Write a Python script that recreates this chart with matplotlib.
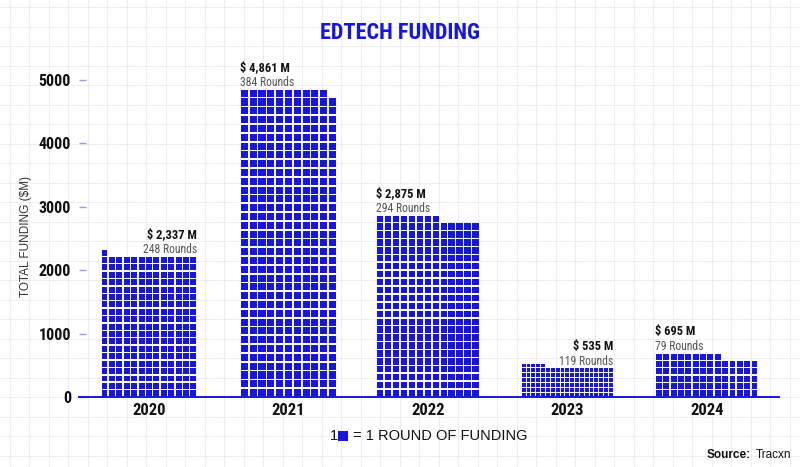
import math
import numpy as np
import matplotlib.pyplot as plt
from matplotlib import font_manager
from matplotlib.patches import Rectangle

# ------------------------------------------------------------
# data (Tracxn, EdTech funding)
# ------------------------------------------------------------
years = ['2020', '2021', '2022', '2023', '2024']
funding_musd = [2337, 4861, 2875, 535, 695]
funding_rounds = [248, 384, 294, 119, 79]
y_ticks = [0, 1000, 2000, 3000, 4000, 5000]

# layout of each waffle bar (columns of squares, side of the label)
waffle_cols = [13, 11, 13, 19, 14]
label_side = ['right', 'left', 'left', 'right', 'left']

BLUE = '#1616e4'
SANS = ['Liberation Sans', 'DejaVu Sans']

# pick a narrow face for the headline-style texts
fonts = font_manager.fontManager.ttflist
names = {f.name for f in fonts}
NARROW_STRETCH = 'normal'
if 'Roboto Condensed' in names:
    NARROW = ['Roboto Condensed', 'DejaVu Sans']
    nscale = 1.0
elif any(f.name == 'DejaVu Sans' and f.stretch == 'condensed' for f in fonts):
    NARROW = ['DejaVu Sans']
    NARROW_STRETCH = 'condensed'
    nscale = 0.9
else:
    NARROW = ['DejaVu Sans']
    nscale = 0.82

W, H = 800, 467
fig = plt.figure(figsize=(W / 100, H / 100), dpi=100)
fig.patch.set_facecolor('white')

# ------------------------------------------------------------
# graph-paper background
# ------------------------------------------------------------
bg = fig.add_axes([0, 0, 1, 1], zorder=0)
bg.set_xlim(0, W)
bg.set_ylim(H, 0)
bg.axis('off')
for gx in np.arange(9.5, W, 19.5):
    bg.axvline(gx, color='#eeeeee', lw=0.8)
for gy in np.arange(7, H, 19.5):
    bg.axhline(gy, color='#eeeeee', lw=0.8)

# ------------------------------------------------------------
# main axes
# ------------------------------------------------------------
ax_left, ax_bottom, ax_w, ax_h = 79.25, 70, 700, 348.7
ax = fig.add_axes([ax_left / W, ax_bottom / H, ax_w / W, ax_h / H], zorder=1)
ax.set_facecolor('none')
x_min, x_max = -0.5, 4.52
y_min, y_max = 0, 5500
ax.set_xlim(x_min, x_max)
ax.set_ylim(y_min, y_max)

px_per_x = ax_w / (x_max - x_min)
px_per_y = ax_h / (y_max - y_min)

gap = 0.2
for i, (year, fund, n, cols) in enumerate(zip(years, funding_musd, funding_rounds, waffle_cols)):
    rows = math.ceil(n / cols)
    row_h = fund / rows
    col_w = row_h * px_per_y / px_per_x
    left = i - cols * col_w / 2
    for k in range(n):
        r, c = divmod(k, cols)
        ax.add_patch(Rectangle(
            (left + (c + gap / 2) * col_w, (r + gap / 2) * row_h),
            col_w * (1 - gap), row_h * (1 - gap),
            facecolor=BLUE, edgecolor='none'
        ))

    # labels above the bar
    partial = n % cols
    if label_side[i] == 'left':
        lx, ha = left, 'left'
        top = fund
    else:
        lx, ha = left + cols * col_w, 'right'
        top = fund if partial == 0 else row_h * (rows - 1)
    ax.annotate(f'{n} Rounds', xy=(lx, top), xytext=(0, 2),
                textcoords='offset points', ha=ha, va='baseline',
                fontsize=8.5 * nscale, family=NARROW, fontstretch=NARROW_STRETCH,
                color='#555555', annotation_clip=False)
    ax.annotate(f'$ {fund:,} M', xy=(lx, top), xytext=(0, 13),
                textcoords='offset points', ha=ha, va='baseline',
                fontsize=9 * nscale, family=NARROW, fontstretch=NARROW_STRETCH,
                fontweight='bold', color='#111111', annotation_clip=False)

for side in ['top', 'right', 'left']:
    ax.spines[side].set_visible(False)
ax.spines['bottom'].set_color(BLUE)
ax.spines['bottom'].set_linewidth(1.4)

ax.set_xticks(range(len(years)))
ax.set_xticklabels(years, family=NARROW, fontstretch=NARROW_STRETCH, fontweight='bold',
                   fontsize=12 * nscale, color='#111111')
ax.tick_params(axis='x', length=0, pad=4)

ax.set_yticks(y_ticks)
ax.set_yticklabels([str(v) for v in y_ticks], family=NARROW, fontstretch=NARROW_STRETCH,
                   fontweight='bold', fontsize=11.5 * nscale, color='#111111')
ax.tick_params(axis='y', direction='in', length=5, width=1, color='#9a9ae6', pad=6)

# ------------------------------------------------------------
# texts
# ------------------------------------------------------------
def fx(px):
    return px / W


def fy(py):
    return 1 - py / H


fig.text(fx(400), fy(33), 'EDTECH FUNDING', ha='center', va='center',
         fontsize=16 * nscale, family=NARROW, fontstretch=NARROW_STRETCH,
         fontweight='bold', color=BLUE)

fig.text(fx(26), fy(236), 'TOTAL FUNDING ($M)', rotation=90, ha='center', va='center',
         fontsize=8.5, family=SANS, color='#333333')

fig.text(fx(330), fy(436), '1', ha='left', va='center', fontsize=10.5, family=SANS, color='#111111')
fig.add_artist(Rectangle((fx(338), fy(441)), 10 / W, 10 / H,
                         transform=fig.transFigure, facecolor=BLUE, edgecolor='none'))
fig.text(fx(353), fy(436), '= 1 ROUND OF FUNDING', ha='left', va='center',
         fontsize=10.5, family=SANS, color='#111111')

fig.text(fx(707), fy(455), 'Source:', ha='left', va='center', fontsize=8.5,
         family=SANS, fontweight='bold', color='#111111')
fig.text(fx(791), fy(455), 'Tracxn', ha='right', va='center', fontsize=8.5,
         family=SANS, color='#111111')

fig.savefig('out.png', dpi=100)
